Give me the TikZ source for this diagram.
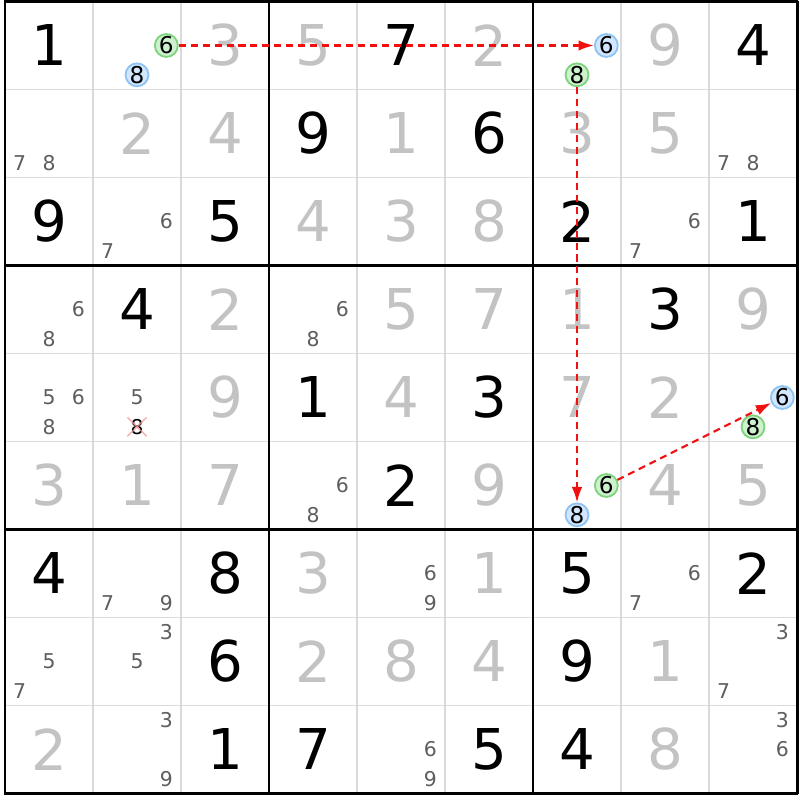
\documentclass[tikz,border=0pt]{standalone}
\usepackage{fontspec}
\setmainfont{DejaVu Sans}
\usepgflibrary{arrows.meta}
\definecolor{solvedgray}{HTML}{C3C3C3}
\definecolor{candgray}{HTML}{5E5E5E}
\definecolor{gridgray}{HTML}{DADADA}
\definecolor{greenfill}{HTML}{CDF2CD}
\definecolor{greenline}{HTML}{7FD37F}
\definecolor{bluefill}{HTML}{D2E7FF}
\definecolor{blueline}{HTML}{8FC3F2}
\definecolor{strikepink}{HTML}{F29A9A}
\definecolor{linkred}{HTML}{F01010}
\tikzset{
  clue/.style={font=\fontsize{40}{40}\selectfont, text=black, inner sep=0pt},
  solved/.style={clue, text=solvedgray},
  cand/.style={font=\fontsize{14.5}{14.5}\selectfont, text=candgray, inner sep=0pt},
  ring/.style={circle, inner sep=0pt, minimum size=0.57cm, line width=1.3pt,
    font=\fontsize{16.5}{16.5}\selectfont, text=black},
  green/.style={ring, draw=greenline, fill=greenfill},
  blue/.style={ring, draw=blueline, fill=bluefill},
  link/.style={linkred, line width=1.5pt, dash pattern=on 5pt off 3.5pt,
    -{Latex[length=11pt,width=7.5pt]}},
}
\def\clue#1#2#3{
  % 1: row
  % 2: col
  % 3: digit
  \node[clue] (r#1c#2) at (#2-0.5,#1-0.5) {#3};
}
\def\solved#1#2#3{
  \node[solved] (r#1c#2) at (#2-0.5,#1-0.5) {#3};
}
\def\cand#1#2#3{
  % 1: row
  % 2: col
  % 3: candidate
  \pgfmathsetmacro\cx{#2-1+(mod(#3-1,3)+0.5)/3}
  \pgfmathsetmacro\cy{#1-1+(floor((#3-1)/3)+0.5)/3}
  \node[cand] (r#1c#2n#3) at (\cx,\cy) {#3};
}
\def\ring#1#2#3#4{
  % 1: row
  % 2: col
  % 3: candidate
  % 4: colour (green / blue)
  \pgfmathsetmacro\cx{#2-1+(mod(#3-1,3)+0.5)/3}
  \pgfmathsetmacro\cy{#1-1+(floor((#3-1)/3)+0.5)/3}
  \node[#4] (r#1c#2n#3) at (\cx,\cy) {#3};
}

\begin{document}
\begin{tikzpicture}[x=2.2cm,y=-2.2cm]
  \fill[white] (-0.057,-0.017) rectangle (9.034,9.074);
  \useasboundingbox (-0.057,-0.017) rectangle (9.034,9.074);
  % grid
  \foreach \i in {1,2,4,5,7,8}{
    \draw[gridgray, line width=1.3pt] (\i,0) -- (\i,9) (0,\i) -- (9,\i);
  }
  \foreach \i in {0,3,6,9}{
    \draw[black, line width=2.1pt] (\i,-0.01) -- (\i,9.01) (-0.01,\i) -- (9.01,\i);
  }
  % row 1
  \clue{1}{1}{1} \ring{1}{2}{6}{green} \ring{1}{2}{8}{blue}
  \solved{1}{3}{3} \solved{1}{4}{5} \clue{1}{5}{7} \solved{1}{6}{2}
  \ring{1}{7}{6}{blue} \ring{1}{7}{8}{green} \solved{1}{8}{9} \clue{1}{9}{4}
  % row 2
  \cand{2}{1}{7} \cand{2}{1}{8} \solved{2}{2}{2} \solved{2}{3}{4}
  \clue{2}{4}{9} \solved{2}{5}{1} \clue{2}{6}{6} \solved{2}{7}{3}
  \solved{2}{8}{5} \cand{2}{9}{7} \cand{2}{9}{8}
  % row 3
  \clue{3}{1}{9} \cand{3}{2}{6} \cand{3}{2}{7} \clue{3}{3}{5}
  \solved{3}{4}{4} \solved{3}{5}{3} \solved{3}{6}{8} \clue{3}{7}{2}
  \cand{3}{8}{6} \cand{3}{8}{7} \clue{3}{9}{1}
  % row 4
  \cand{4}{1}{6} \cand{4}{1}{8} \clue{4}{2}{4} \solved{4}{3}{2}
  \cand{4}{4}{6} \cand{4}{4}{8} \solved{4}{5}{5} \solved{4}{6}{7}
  \solved{4}{7}{1} \clue{4}{8}{3} \solved{4}{9}{9}
  % row 5
  \cand{5}{1}{5} \cand{5}{1}{6} \cand{5}{1}{8} \cand{5}{2}{5}
  \node[cand, text=black] (r5c2n8) at (1.5,4+2.5/3) {8};
  \draw[strikepink, line width=1pt, opacity=0.8]
    ([shift={(-2pt,-1pt)}]r5c2n8.south west) -- ([shift={(2pt,1pt)}]r5c2n8.north east)
    ([shift={(-2pt,1pt)}]r5c2n8.north west) -- ([shift={(2pt,-1pt)}]r5c2n8.south east);
  \solved{5}{3}{9} \clue{5}{4}{1} \solved{5}{5}{4} \clue{5}{6}{3}
  \solved{5}{7}{7} \solved{5}{8}{2} \ring{5}{9}{6}{blue} \ring{5}{9}{8}{green}
  % row 6
  \solved{6}{1}{3} \solved{6}{2}{1} \solved{6}{3}{7} \cand{6}{4}{6}
  \cand{6}{4}{8} \clue{6}{5}{2} \solved{6}{6}{9} \ring{6}{7}{6}{green}
  \ring{6}{7}{8}{blue} \solved{6}{8}{4} \solved{6}{9}{5}
  % row 7
  \clue{7}{1}{4} \cand{7}{2}{7} \cand{7}{2}{9} \clue{7}{3}{8}
  \solved{7}{4}{3} \cand{7}{5}{6} \cand{7}{5}{9} \solved{7}{6}{1}
  \clue{7}{7}{5} \cand{7}{8}{6} \cand{7}{8}{7} \clue{7}{9}{2}
  % row 8
  \cand{8}{1}{5} \cand{8}{1}{7} \cand{8}{2}{3} \cand{8}{2}{5}
  \clue{8}{3}{6} \solved{8}{4}{2} \solved{8}{5}{8} \solved{8}{6}{4}
  \clue{8}{7}{9} \solved{8}{8}{1} \cand{8}{9}{3} \cand{8}{9}{7}
  % row 9
  \solved{9}{1}{2} \cand{9}{2}{3} \cand{9}{2}{9} \clue{9}{3}{1}
  \clue{9}{4}{7} \cand{9}{5}{6} \cand{9}{5}{9} \clue{9}{6}{5}
  \clue{9}{7}{4} \solved{9}{8}{8} \cand{9}{9}{3} \cand{9}{9}{6}
  % chain
  \draw[link] (r1c2n6) -- (r1c7n6);
  \draw[link] (r1c7n8) -- (r6c7n8);
  \draw[link] (r6c7n6) -- (r5c9n6);
\end{tikzpicture}
\end{document}
